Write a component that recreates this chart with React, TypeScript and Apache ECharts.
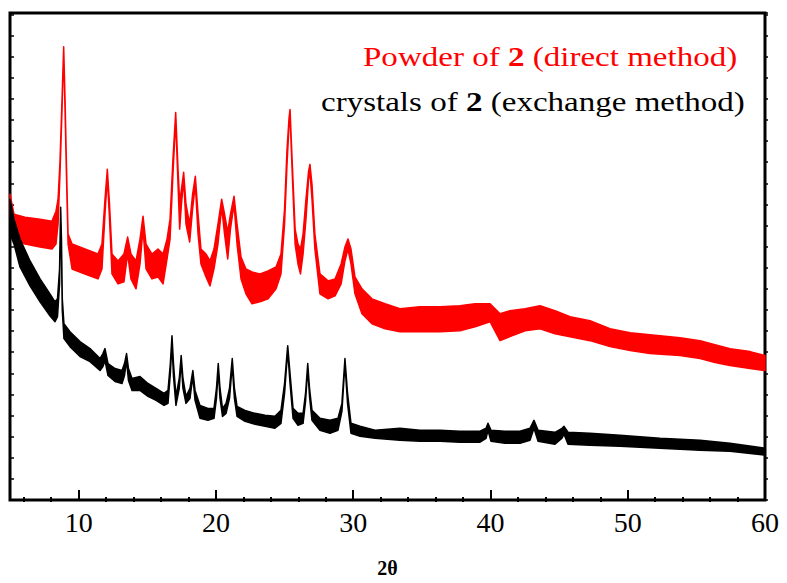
import React, { useEffect, useRef } from "react";
import * as echarts from "echarts";

// 2θ positions (degrees) and intensity envelopes (a.u.)
const redX = [5.0, 5.29, 6.09, 7.19, 8.06, 8.35, 8.5, 8.64, 8.79, 8.91, 9.01, 9.12, 9.23, 9.52, 10.46, 11.41, 11.7, 11.92, 12.09, 12.25, 12.43, 12.87, 13.3, 13.57, 13.81, 14.18, 14.47, 14.69, 14.91, 15.34, 15.78, 16.15, 16.44, 16.66, 16.87, 17.07, 17.24, 17.36, 17.49, 17.65, 17.82, 18.09, 18.3, 18.5, 18.7, 18.91, 19.28, 19.57, 19.86, 20.15, 20.42, 20.63, 20.86, 21.06, 21.32, 21.54, 21.83, 22.19, 22.63, 23.21, 23.8, 24.38, 24.74, 25.0, 25.18, 25.33, 25.4, 25.55, 25.77, 25.98, 26.16, 26.35, 26.56, 26.75, 26.85, 27.0, 27.21, 27.58, 28.17, 28.68, 29.12, 29.4, 29.62, 29.84, 30.13, 30.64, 31.37, 32.32, 33.41, 34.87, 36.33, 37.78, 38.88, 39.97, 40.7, 41.42, 42.52, 43.61, 44.7, 45.8, 47.25, 48.71, 50.17, 51.62, 53.81, 55.27, 56.36, 57.45, 58.91, 60.0];
const redHigh = [307, 287, 284, 282, 280, 290, 302, 339, 402, 455, 402, 332, 267, 257, 252, 247, 257, 302, 332, 297, 247, 240, 247, 264, 247, 240, 262, 285, 257, 247, 252, 247, 262, 282, 342, 389, 332, 299, 312, 329, 297, 277, 307, 325, 287, 252, 247, 240, 252, 277, 302, 287, 269, 287, 305, 277, 244, 232, 229, 227, 230, 234, 247, 292, 352, 384, 392, 342, 272, 257, 252, 267, 302, 330, 337, 317, 267, 227, 220, 222, 237, 254, 262, 252, 224, 212, 202, 197, 192, 194, 194, 195, 197, 197, 187, 190, 192, 195, 190, 184, 180, 172, 168, 166, 163, 160, 156, 152, 149, 145];
const redLow = [287, 262, 257, 254, 252, 257, 277, 327, 392, 450, 392, 322, 257, 232, 227, 222, 232, 287, 324, 282, 227, 217, 219, 247, 222, 212, 237, 272, 232, 222, 224, 217, 242, 262, 327, 382, 317, 272, 297, 322, 277, 259, 292, 317, 267, 237, 224, 215, 232, 257, 294, 267, 242, 272, 297, 257, 222, 207, 197, 199, 202, 212, 227, 277, 337, 377, 387, 332, 257, 237, 227, 247, 282, 322, 330, 302, 252, 207, 202, 205, 217, 240, 252, 237, 207, 187, 177, 172, 169, 169, 169, 170, 174, 179, 160, 164, 170, 172, 167, 164, 160, 154, 150, 147, 145, 142, 138, 135, 132, 130];

const blackX = [5.0, 5.29, 5.73, 6.46, 7.19, 7.91, 8.28, 8.46, 8.61, 8.69, 8.75, 8.81, 8.93, 9.37, 10.1, 10.83, 11.56, 11.77, 11.92, 12.14, 12.65, 13.16, 13.34, 13.49, 13.63, 13.89, 14.47, 15.05, 15.64, 16.22, 16.51, 16.68, 16.8, 16.91, 17.09, 17.33, 17.47, 17.6, 17.82, 18.11, 18.32, 18.48, 18.84, 19.42, 19.86, 20.04, 20.17, 20.3, 20.48, 20.74, 20.99, 21.19, 21.35, 21.54, 22.12, 22.85, 23.58, 24.3, 24.74, 25.0, 25.23, 25.4, 25.62, 25.98, 26.35, 26.53, 26.69, 26.82, 27.0, 27.58, 28.31, 28.89, 29.18, 29.4, 29.59, 29.84, 30.5, 31.59, 33.41, 34.87, 36.33, 37.78, 39.24, 39.68, 39.82, 40.04, 41.06, 42.15, 42.88, 43.17, 43.47, 44.7, 45.21, 45.36, 45.65, 47.25, 49.44, 52.35, 55.27, 57.45, 60.0];
const blackHigh = [302, 282, 262, 240, 222, 207, 199, 202, 232, 294, 262, 202, 177, 169, 159, 152, 142, 147, 152, 137, 132, 130, 137, 147, 132, 122, 124, 117, 112, 107, 110, 137, 165, 137, 104, 122, 145, 122, 104, 112, 130, 110, 95, 92, 92, 112, 137, 112, 92, 97, 112, 142, 112, 94, 90, 87, 85, 84, 90, 117, 155, 127, 92, 87, 87, 107, 137, 112, 90, 82, 80, 82, 97, 142, 107, 77, 74, 70, 72, 70, 70, 69, 69, 72, 77, 70, 69, 69, 72, 80, 70, 68, 72, 74, 68, 67, 65, 62, 60, 57, 52];
const blackLow = [267, 257, 234, 215, 199, 185, 179, 184, 217, 287, 247, 190, 162, 154, 144, 139, 130, 134, 140, 125, 119, 117, 125, 140, 120, 110, 110, 104, 100, 95, 97, 127, 157, 124, 95, 112, 139, 112, 97, 102, 124, 100, 82, 80, 82, 102, 130, 102, 84, 87, 102, 135, 102, 84, 79, 76, 74, 72, 77, 107, 150, 117, 82, 75, 77, 99, 132, 104, 80, 70, 67, 70, 89, 137, 97, 67, 64, 62, 60, 59, 59, 58, 58, 62, 70, 59, 57, 57, 60, 72, 59, 56, 62, 66, 56, 55, 54, 52, 50, 49, 45];

const majorTicks = [10, 20, 30, 40, 50, 60];
const minorTicks = [6, 8, 12, 14, 16, 18, 22, 24, 26, 28, 32, 34, 36, 38, 42, 44, 46, 48, 52, 54, 56, 58];

const X_MIN = 5;
const X_MAX = 60;
const Y_MAX = 489;
const Y_STEP = 21.2;

const FONT = "'Liberation Serif', 'Times New Roman', serif";

function bandSeries(name: string, xs: number[], hi: number[], lo: number[], color: string, z: number) {
  return {
    name,
    type: "custom",
    xAxisIndex: 0,
    yAxisIndex: 0,
    z,
    data: [[xs[0], hi[0]]],
    encode: { x: 0, y: 1 },
    renderItem: (_params: any, api: any) => {
      const pts: number[][] = [];
      for (let i = 0; i < xs.length; i++) pts.push(api.coord([xs[i], hi[i]]));
      for (let i = xs.length - 1; i >= 0; i--) pts.push(api.coord([xs[i], lo[i]]));
      return {
        type: "polygon",
        shape: { points: pts },
        style: { fill: color, stroke: color, lineWidth: 1.5, lineJoin: "round" },
      };
    },
  };
}

export default function App() {
  const ref = useRef<HTMLDivElement>(null);
  useEffect(() => {
    if (!ref.current) return;
    const chart = echarts.init(ref.current, null, { renderer: "svg" });
    const gridBox = { left: 10, right: 22, top: 13, bottom: 81 };
    chart.setOption({
      animation: false,
      backgroundColor: "#ffffff",
      grid: [
        { ...gridBox, show: true, borderColor: "#000", borderWidth: 3, backgroundColor: "transparent" },
        { ...gridBox, show: false },
      ],
      xAxis: [
        {
          type: "value",
          gridIndex: 0,
          position: "bottom",
          min: X_MIN,
          max: X_MAX,
          axisLine: { show: false },
          splitLine: { show: false },
          axisTick: { show: true, inside: true, length: 10, customValues: majorTicks, lineStyle: { color: "#000", width: 2 } },
          axisLabel: { show: true, customValues: majorTicks, margin: 8, color: "#000", fontSize: 28, fontFamily: FONT },
          name: "2θ",
          nameLocation: "middle",
          nameGap: 58,
          nameTextStyle: { color: "#000", fontSize: 20, fontWeight: "bold", fontFamily: FONT },
        },
        {
          type: "value",
          gridIndex: 1,
          position: "bottom",
          min: X_MIN,
          max: X_MAX,
          axisLine: { show: false },
          splitLine: { show: false },
          axisTick: { show: true, inside: true, length: 5, customValues: minorTicks, lineStyle: { color: "#000", width: 2 } },
          axisLabel: { show: false },
        },
      ],
      yAxis: [
        {
          type: "value",
          gridIndex: 0,
          position: "left",
          min: 0,
          max: Y_MAX,
          interval: Y_STEP,
          axisLine: { show: false },
          splitLine: { show: false },
          axisTick: { show: true, inside: true, length: 4, lineStyle: { color: "#000", width: 1.5 } },
          axisLabel: { show: false },
        },
        {
          type: "value",
          gridIndex: 0,
          position: "right",
          min: 0,
          max: Y_MAX,
          interval: Y_STEP,
          axisLine: { show: false },
          splitLine: { show: false },
          axisTick: { show: true, inside: false, length: 3, lineStyle: { color: "#000", width: 1.5 } },
          axisLabel: { show: false },
        },
        {
          type: "value",
          gridIndex: 1,
          min: 0,
          max: Y_MAX,
          show: false,
        },
      ],
      series: [
        bandSeries("Powder of 2 (direct method)", redX, redHigh, redLow, "#ff0000", 2),
        bandSeries("crystals of 2 (exchange method)", blackX, blackHigh, blackLow, "#000000", 3),
      ],
      graphic: [
        {
          type: "text",
          x: 363,
          y: 57,
          scaleX: 1.18,
          z: 10,
          style: {
            text: "{n|Powder of }{b|2}{n| (direct method)}",
            verticalAlign: "middle",
            align: "left",
            fill: "#ff0000",
            rich: {
              n: { fontSize: 28, fontFamily: FONT, fill: "#ff0000", color: "#ff0000" },
              b: { fontSize: 28, fontFamily: FONT, fontWeight: "bold", fill: "#ff0000", color: "#ff0000" },
            },
          },
        },
        {
          type: "text",
          x: 321,
          y: 102,
          scaleX: 1.18,
          z: 10,
          style: {
            text: "{n|crystals of }{b|2}{n| (exchange method)}",
            verticalAlign: "middle",
            align: "left",
            fill: "#000000",
            rich: {
              n: { fontSize: 28, fontFamily: FONT, fill: "#000000", color: "#000000" },
              b: { fontSize: 28, fontFamily: FONT, fontWeight: "bold", fill: "#000000", color: "#000000" },
            },
          },
        },
      ],
    });
    return () => chart.dispose();
  }, []);
  return (
    <div
      ref={ref}
      style={{ position: "fixed", left: 0, top: 0, width: 787, height: 583, background: "#fff" }}
    />
  );
}
